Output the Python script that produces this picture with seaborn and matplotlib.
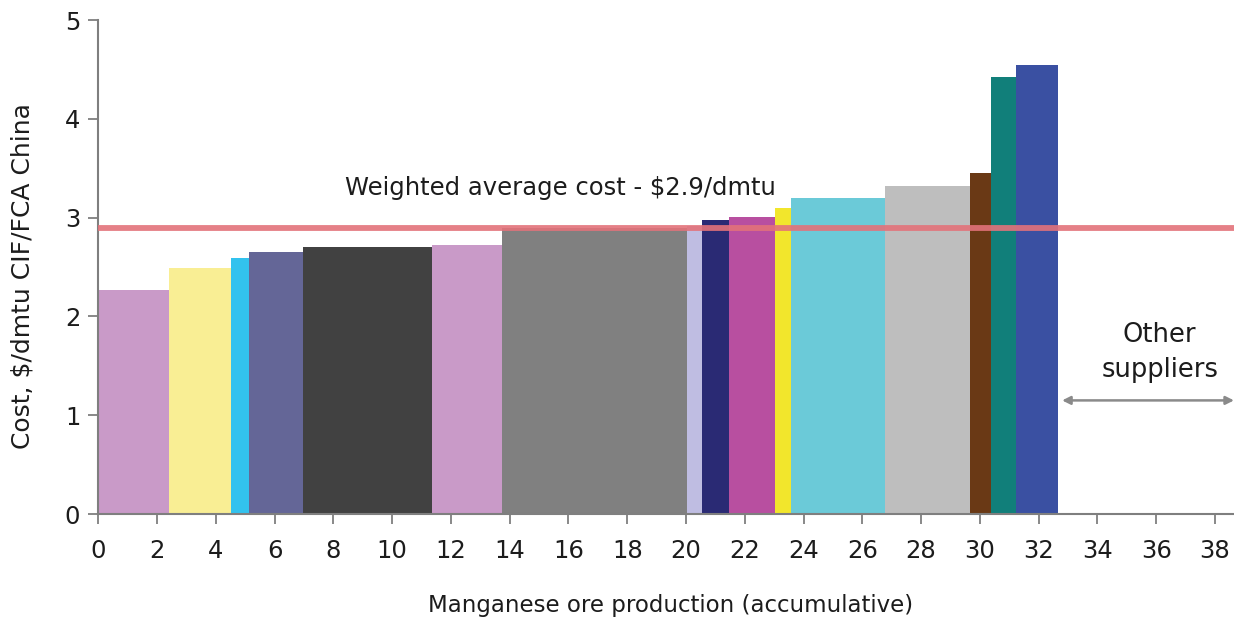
import numpy as np
import pandas as pd
import matplotlib
matplotlib.use("Agg")
import matplotlib.pyplot as plt
import seaborn as sns

# Cumulative production boundaries of each supplier block
block_edges = [0.0, 2.42, 4.50, 5.14, 6.98, 11.34, 13.73, 20.02, 20.55,
               21.47, 23.02, 23.56, 26.77, 29.66, 30.37, 31.22, 32.66]
# Cost of each block, $/dmtu CIF/FCA China
block_costs = [2.27, 2.49, 2.59, 2.65, 2.70, 2.72, 2.90, 2.92,
               2.98, 3.01, 3.10, 3.20, 3.32, 3.45, 4.42, 4.55]
block_colors = ["#C99AC8", "#F9EE94", "#32C2EE", "#646697", "#414141",
                "#C99AC8", "#808080", "#BFBDE2", "#2A2A74", "#B84FA0",
                "#F2E62C", "#6BCAD8", "#BEBEBE", "#6A3915", "#117F7A",
                "#3A50A2"]
supplier_ids = [f"Supplier {i + 1}" for i in range(len(block_costs))]

weighted_avg = 2.9
x_ticks = list(range(0, 39, 2))
y_ticks = [0, 1, 2, 3, 4, 5]

sns.set_style("ticks")
plt.rcParams["font.family"] = ["DejaVu Sans"]

df = pd.DataFrame({
    "supplier": supplier_ids,
    "mid": [(a + b) / 2 for a, b in zip(block_edges[:-1], block_edges[1:])],
    "cost": block_costs,
})

fig = plt.figure(figsize=(12.34, 6.19), dpi=100)
ax = fig.add_axes([0.0797, 0.1696, 0.9203, 0.798])

# Variable-width cost curve: one weighted histogram bin per supplier block
sns.histplot(data=df, x="mid", weights="cost", hue="supplier",
             hue_order=supplier_ids, palette=block_colors, bins=block_edges,
             multiple="layer", alpha=1, linewidth=0, legend=False, ax=ax)

ax.axhline(weighted_avg, color="#E3727A", lw=4.2, alpha=0.9, zorder=5)

ax.set_xlim(0, 38.65)
ax.set_ylim(0, 5)
ax.set_xticks(x_ticks)
ax.set_yticks(y_ticks)

text_color = "#1c1c1c"
axis_color = "#7f7f7f"
for side in ["top", "right"]:
    ax.spines[side].set_visible(False)
for side in ["left", "bottom"]:
    ax.spines[side].set_color(axis_color)
    ax.spines[side].set_linewidth(1.5)

ax.tick_params(axis="both", colors=axis_color, labelcolor=text_color,
               labelsize=17.5, length=7, width=1.3)
ax.tick_params(axis="x", pad=11)
ax.tick_params(axis="y", pad=6)

ax.set_xlabel("Manganese ore production (accumulative)", fontsize=16.5,
              color=text_color)
ax.set_ylabel(r"Cost, \$/dmtu CIF/FCA China", fontsize=18, color=text_color)
ax.xaxis.set_label_coords(0.504, -0.162)
ax.yaxis.set_label_coords(-0.0565, 0.482)

ax.text(15.71, 3.23, r"Weighted average cost - \$2.9/dmtu", ha="center",
        va="baseline", fontsize=17.5, color=text_color)

ax.text(36.12, 1.63, "Other\nsuppliers", ha="center", va="center",
        fontsize=18.5, linespacing=1.45, color=text_color)
ax.annotate("", xy=(32.8, 1.15), xytext=(38.65, 1.15),
            arrowprops=dict(arrowstyle="<|-|>", color="#8a8a8a", lw=1.8,
                            mutation_scale=12, shrinkA=0, shrinkB=0),
            annotation_clip=False)

fig.savefig("out.png", dpi=100)
